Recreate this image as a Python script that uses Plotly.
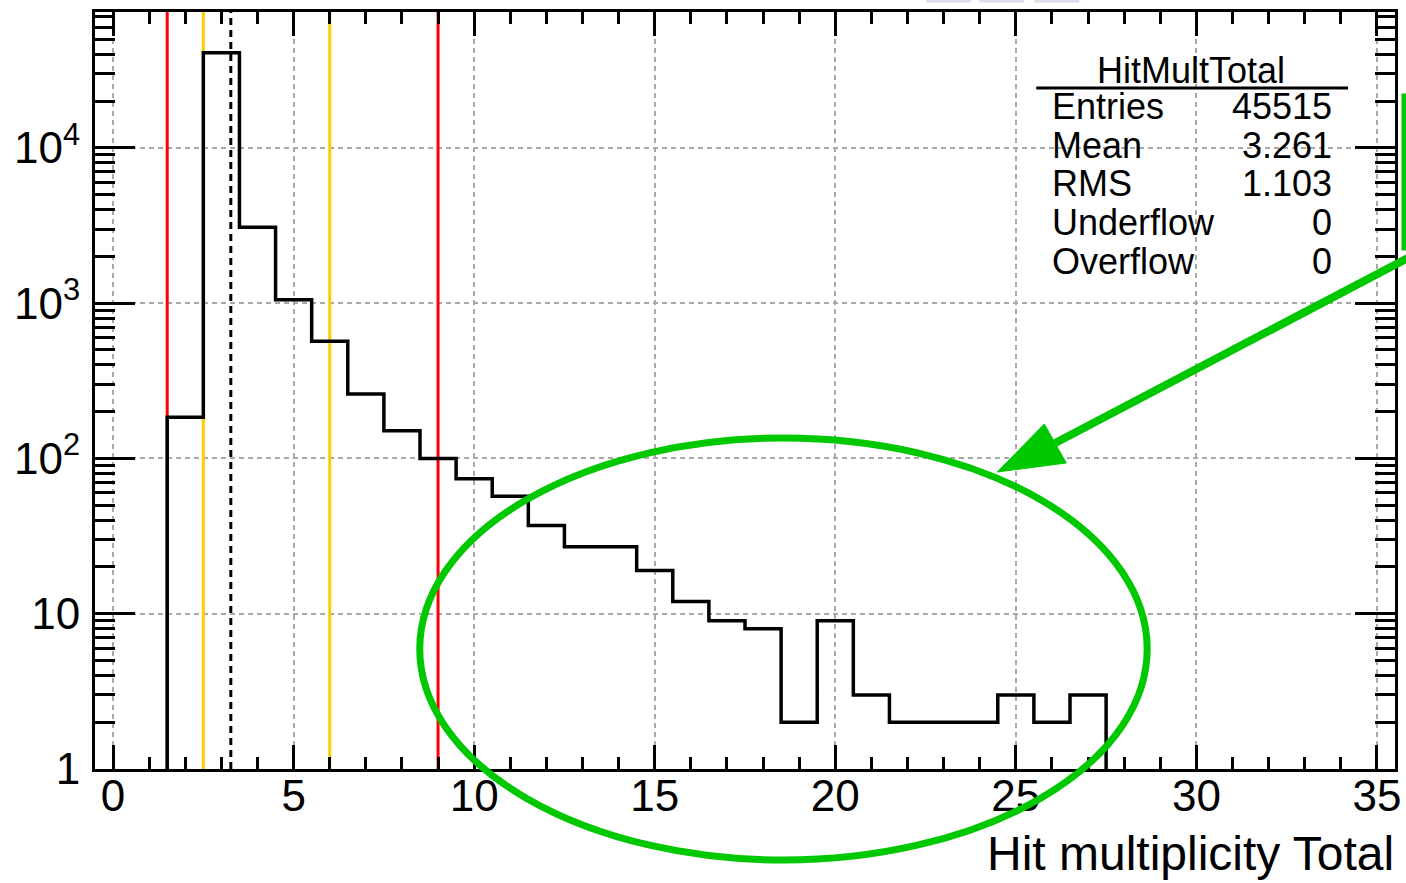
import plotly.graph_objects as go

# ---- data ----
bin_centers = list(range(2, 28))
counts = [184, 41000, 3080, 1052, 568, 260, 151, 100, 74, 57, 37, 27, 27, 19,
          12, 9, 8, 2, 9, 3, 2, 2, 2, 3, 2, 3]
bin_width = 1.0

red_cuts = [1.5, 9]
orange_cuts = [2.5, 6]
mean_value = 3.261

x_tickvals = [0, 5, 10, 15, 20, 25, 30, 35]
y_tickvals = [1, 10, 100, 1000, 10000]
y_ticktext = ["1", "10", "10<sup>2</sup>", "10<sup>3</sup>", "10<sup>4</sup>"]

stats_title = "HitMultTotal"
stats_labels = ["Entries", "Mean", "RMS", "Underflow", "Overflow"]
stats_values = ["45515", "3.261", "1.103", "0", "0"]
x_title = "Hit multiplicity Total"

# ---- layout geometry (pixels) ----
W, H = 1406, 883
L, R, T, B = 95, 5, 12, 114
PX0, PX1 = 95, 1396          # effective plot area edges
PY0, PY1 = T, H - B


def px2x(px):
    return (px - PX0) / (PX1 - PX0)


def py2y(py):
    return (PY1 - py) / (PY1 - PY0)


FONT = "Liberation Sans, Arial, sans-serif"
GREEN = "#00c800"

fig = go.Figure()

YTOP = 10 ** 4.875
for xv in red_cuts:
    fig.add_trace(go.Scatter(x=[xv, xv], y=[1, YTOP], mode="lines",
                             line=dict(color="#ff0000", width=3),
                             showlegend=False, hoverinfo="skip"))
for xv in orange_cuts:
    fig.add_trace(go.Scatter(x=[xv, xv], y=[1, YTOP], mode="lines",
                             line=dict(color="#ffcc00", width=3),
                             showlegend=False, hoverinfo="skip"))
fig.add_trace(go.Scatter(x=[mean_value, mean_value], y=[1, YTOP], mode="lines",
                         line=dict(color="black", width=3, dash="7px,5px"),
                         showlegend=False, hoverinfo="skip"))

# histogram step outline
xs = [bin_centers[0] - bin_width / 2]
ys = [1]
for c, v in zip(bin_centers, counts):
    xs += [c - bin_width / 2, c + bin_width / 2]
    ys += [v, v]
xs.append(bin_centers[-1] + bin_width / 2)
ys.append(1)
fig.add_trace(go.Scatter(x=xs, y=ys, mode="lines",
                         line=dict(color="black", width=3.5),
                         showlegend=False, hoverinfo="skip"))

axis_common = dict(
    showline=True, linecolor="black", linewidth=3, mirror="allticks",
    ticks="inside", tickcolor="black", tickwidth=3,
    showgrid=True, gridcolor="#a8a8a8", gridwidth=1.5, griddash="5px,4px",
    zeroline=False,
    tickfont=dict(family=FONT, size=44, color="black"),
)

fig.update_xaxes(
    range=[-0.5, 35.5], tickmode="array", tickvals=x_tickvals,
    ticktext=[str(v) for v in x_tickvals], ticklen=24,
    ticklabelstandoff=-14,
    minor=dict(dtick=1, tick0=0, ticks="inside", ticklen=12,
               tickwidth=3, tickcolor="black", showgrid=False),
    **axis_common,
)
fig.update_yaxes(
    type="log", range=[0, 4.875], tickmode="array", tickvals=y_tickvals,
    ticktext=y_ticktext, ticklen=40, ticklabelstandoff=3,
    minor=dict(dtick="D1", ticks="inside", ticklen=20,
               tickwidth=3, tickcolor="black", showgrid=False),
    **axis_common,
)

annotations = []
shapes = []

annotations.append(dict(text=x_title, xref="paper", yref="paper",
                        x=px2x(1397), y=py2y(882), xanchor="right", yanchor="bottom",
                        showarrow=False, font=dict(family=FONT, size=48, color="black")))

# stats box
SF = 36
annotations.append(dict(text=stats_title, xref="paper", yref="paper",
                        x=px2x(1192), y=py2y(71), xanchor="center", yanchor="middle",
                        showarrow=False, font=dict(family=FONT, size=SF, color="black")))
shapes.append(dict(type="line", xref="paper", yref="paper",
                   x0=px2x(1037), x1=px2x(1349), y0=py2y(88), y1=py2y(88),
                   line=dict(color="black", width=3)))
row_y = [107, 146, 184, 223, 261]
for lab, val, ry in zip(stats_labels, stats_values, row_y):
    annotations.append(dict(text=lab, xref="paper", yref="paper",
                            x=px2x(1051), y=py2y(ry), xanchor="left", yanchor="middle",
                            showarrow=False, font=dict(family=FONT, size=SF, color="black")))
    annotations.append(dict(text=val, xref="paper", yref="paper",
                            x=px2x(1335), y=py2y(ry), xanchor="right", yanchor="middle",
                            showarrow=False, font=dict(family=FONT, size=SF, color="black")))

# green ellipse
shapes.append(dict(type="circle", xref="paper", yref="paper",
                   x0=px2x(420), x1=px2x(1148), y0=py2y(860), y1=py2y(438),
                   line=dict(color=GREEN, width=7)))


def pth(points, close=False):
    s = "M " + " L ".join(f"{px2x(a):.5f},{py2y(b):.5f}" for a, b in points)
    return s + (" Z" if close else "")


shapes.append(dict(type="path", xref="paper", yref="paper",
                   path=pth([(1056, 443), (1430, 247)]),
                   line=dict(color=GREEN, width=8)))
shapes.append(dict(type="path", xref="paper", yref="paper",
                   path=pth([(998, 472), (1045, 424), (1067, 463)], close=True),
                   fillcolor=GREEN, line=dict(color=GREEN, width=1)))
shapes.append(dict(type="rect", xref="paper", yref="paper",
                   x0=px2x(1405), x1=px2x(1460), y0=py2y(248), y1=py2y(96),
                   line=dict(color=GREEN, width=5)))
for a, b in [(927, 972), (980, 1025), (1035, 1080)]:
    shapes.append(dict(type="rect", xref="paper", yref="paper",
                       x0=px2x(a), x1=px2x(b), y0=py2y(2.5), y1=py2y(-2),
                       fillcolor="#dcdcee", line=dict(width=0)))

fig.update_layout(
    width=W, height=H,
    margin=dict(l=L, r=R, t=T, b=B, pad=0),
    paper_bgcolor="white", plot_bgcolor="white",
    showlegend=False,
    annotations=annotations, shapes=shapes,
    font=dict(family=FONT, color="black"),
)

fig.write_html("out.html")
